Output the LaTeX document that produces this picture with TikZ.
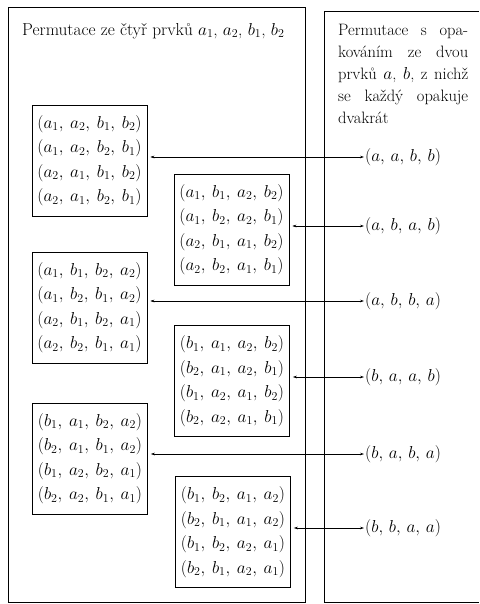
\documentclass[tikz,border=0pt]{standalone}
\usepackage{fontspec}
\usetikzlibrary{arrows.meta}
\newcommand{\prm}[4]{$(#1,\:#2,\:#3,\:#4)$}
\newcommand{\prl}[4]{$(#1,\,#2,\,#3,\,#4)$}
\begin{document}
\begin{tikzpicture}[x=1pt,y=-1pt,
  perm/.style={draw, line width=0.7pt, minimum width=115pt, minimum height=111pt,
    align=center, inner sep=0pt, font=\fontsize{17.28}{24.5}\selectfont},
  lab/.style={anchor=west, inner sep=1pt, font=\fontsize{17.28}{19}\selectfont},
  conn/.style={{Stealth[length=4pt,width=2.6pt]}-{Stealth[length=4pt,width=2.6pt]},
    line width=0.5pt, shorten >=3pt},
  frame/.style={line width=0.8pt}]
\useasboundingbox (0,0) rectangle (479,604);
\draw[frame] (8,7) rectangle (305,602);
\draw[frame] (479,11) -- (324,11) -- (324,602) -- (479,602);

\node[anchor=west, inner sep=0pt, font=\fontsize{17.28}{19}\selectfont] (title) at (22,31)
  {Permutace ze čtyř prvků $a_1$, $a_2$, $b_1$, $b_2$};

\node[anchor=north west, inner sep=0pt, text width=130pt, align=left,
  font=\fontsize{16.5}{22}\selectfont] (desc) at (338,24)
  {Permutace\hfill s\hfill opa-\\
   kováním\hfill ze\hfill dvou\\
   prvků\hfill $a$,\hfill $b$,\hfill z\hfill nichž\\
   se\hfill každý\hfill opakuje\\
   dvakrát};

\node[perm] (b1) at (89.5,160.5) {\prm{a_1}{a_2}{b_1}{b_2}\\\prm{a_1}{a_2}{b_2}{b_1}\\\prm{a_2}{a_1}{b_1}{b_2}\\\prm{a_2}{a_1}{b_2}{b_1}};
\node[perm] (b2) at (231.5,229.5) {\prm{a_1}{b_1}{a_2}{b_2}\\\prm{a_1}{b_2}{a_2}{b_1}\\\prm{a_2}{b_1}{a_1}{b_2}\\\prm{a_2}{b_2}{a_1}{b_1}};
\node[perm] (b3) at (89.5,307.5) {\prm{a_1}{b_1}{b_2}{a_2}\\\prm{a_1}{b_2}{b_1}{a_2}\\\prm{a_2}{b_1}{b_2}{a_1}\\\prm{a_2}{b_2}{b_1}{a_1}};
\node[perm] (b4) at (232,381) {\prm{b_1}{a_1}{a_2}{b_2}\\\prm{b_2}{a_1}{a_2}{b_1}\\\prm{b_1}{a_2}{a_1}{b_2}\\\prm{b_2}{a_2}{a_1}{b_1}};
\node[perm] (b5) at (90,458.5) {\prm{b_1}{a_1}{b_2}{a_2}\\\prm{b_2}{a_1}{b_1}{a_2}\\\prm{b_1}{a_2}{b_2}{a_1}\\\prm{b_2}{a_2}{b_1}{a_1}};
\node[perm] (b6) at (233,532) {\prm{b_1}{b_2}{a_1}{a_2}\\\prm{b_2}{b_1}{a_1}{a_2}\\\prm{b_1}{b_2}{a_2}{a_1}\\\prm{b_2}{b_1}{a_2}{a_1}};

\node[lab] (l1) at (364,157) {\prl{a}{a}{b}{b}};
\node[lab] (l2) at (364,226) {\prl{a}{b}{a}{b}};
\node[lab] (l3) at (364,301) {\prl{a}{b}{b}{a}};
\node[lab] (l4) at (364,377) {\prl{b}{a}{a}{b}};
\node[lab] (l5) at (364,454) {\prl{b}{a}{b}{a}};
\node[lab] (l6) at (364,528) {\prl{b}{b}{a}{a}};

\foreach \i in {1,...,6}
  \draw[conn] (l\i.west) -- (l\i.west -| b\i.east);
\end{tikzpicture}
\end{document}
